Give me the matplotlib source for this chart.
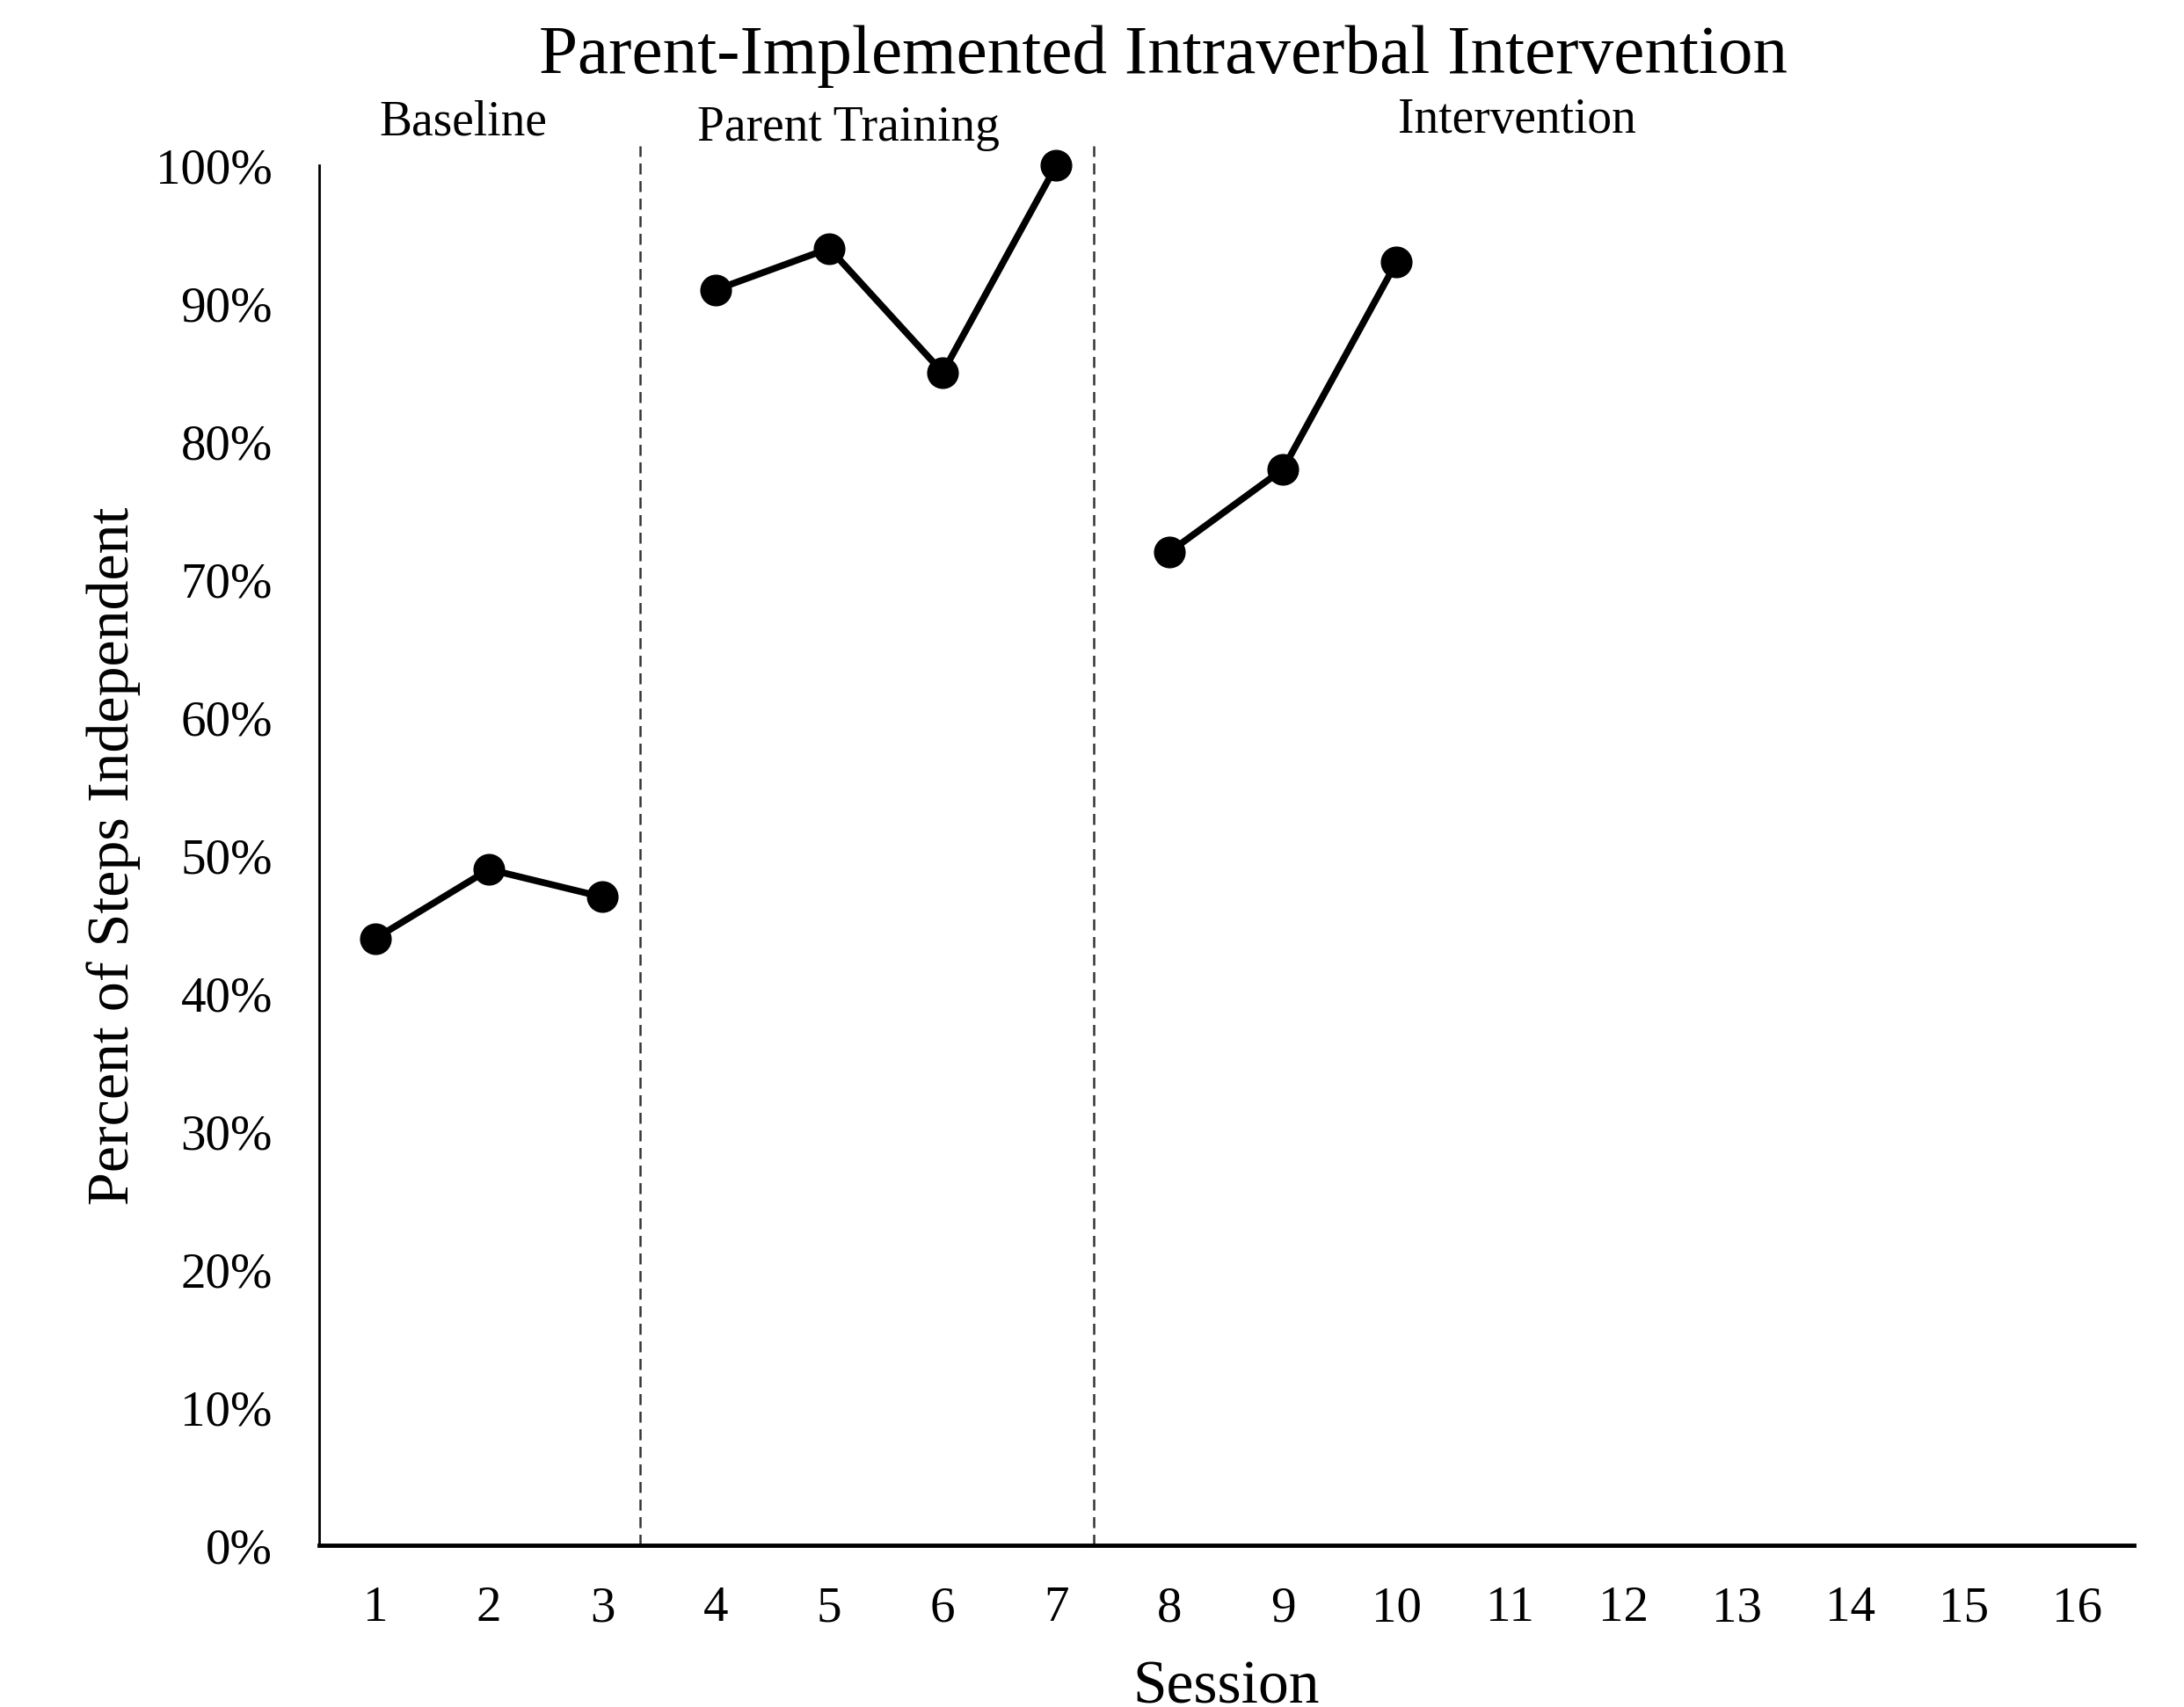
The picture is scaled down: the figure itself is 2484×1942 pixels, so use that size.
import numpy as np
import matplotlib
matplotlib.use("Agg")
import matplotlib.pyplot as plt
import matplotlib.transforms as mtransforms

plt.rcParams["font.family"] = ["Liberation Serif", "DejaVu Serif"]

# data
baseline_x = [1, 2, 3]
baseline_y = [44, 49, 47]
training_x = [4, 5, 6, 7]
training_y = [91, 94, 85, 100]
interv_x = [8, 9, 10]
interv_y = [72, 78, 93]

sessions = list(range(1, 17))
yticks = list(range(0, 101, 10))
phase_lines = [3.33, 7.33]
phase_names = ["Baseline", "Parent Training", "Intervention"]
phase_pos = [(1.77, 1.031), (5.17, 1.027), (11.06, 1.033)]

fig = plt.figure(figsize=(24.84, 19.42), dpi=100)
ax = fig.add_axes([0.146, 0.0946, 0.831, 0.8084])

for xs, ys in [(baseline_x, baseline_y), (training_x, training_y), (interv_x, interv_y)]:
    ax.plot(xs, ys, color="black", lw=5.5, marker="o", ms=25, clip_on=False, zorder=3)

trans = mtransforms.blended_transform_factory(ax.transData, ax.transAxes)
for xv in phase_lines:
    ax.plot([xv, xv], [0, 1.014], transform=trans, color="#333333", lw=1.8,
            ls=(0, (5, 3)), clip_on=False, zorder=2)

for name, (px, py) in zip(phase_names, phase_pos):
    ax.text(px, py, name, transform=trans, ha="center", va="center", fontsize=40)

ax.set_xlim(0.5, 16.5)
ax.set_ylim(0, 100)
ax.set_xticks(sessions)
ax.set_yticks(yticks)
ax.set_yticklabels([f"{v}%" for v in yticks])
ax.tick_params(axis="both", length=0, labelsize=41)
ax.tick_params(axis="x", pad=33)
ax.tick_params(axis="y", pad=38)

ax.spines["top"].set_visible(False)
ax.spines["right"].set_visible(False)
ax.spines["left"].set_linewidth(2)
ax.spines["bottom"].set_linewidth(3.5)

ax.set_xlabel("Session", fontsize=50, labelpad=24)
ax.set_ylabel("Percent of Steps Independent", fontsize=49, labelpad=12)

fig.text(0.5325, 0.967, "Parent-Implemented Intraverbal Intervention",
         ha="center", va="center", fontsize=57)

fig.savefig("out.png", dpi=100)
